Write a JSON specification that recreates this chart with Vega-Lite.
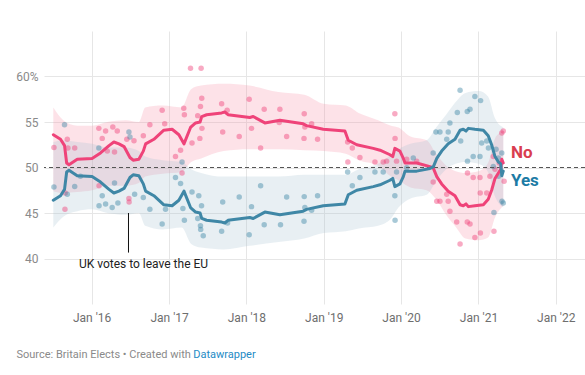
{
  "$schema": "https://vega.github.io/schema/vega-lite/v6.json",
  "width": 541,
  "height": 273,
  "autosize": {"type": "none"},
  "padding": {"left": 44, "top": 31, "right": 0, "bottom": 71},
  "background": "white",
  "config": {"font": "Roboto", "view": {"stroke": null}},
  "datasets": {
    "lines": [
      {"d": "2015-07-04", "no": 53.6, "yes": 46.4},
      {"d": "2015-08-07", "no": 53.1, "yes": 46.9},
      {"d": "2015-08-26", "no": 52.4, "yes": 47.6},
      {"d": "2015-09-05", "no": 50.5, "yes": 49.5},
      {"d": "2015-09-16", "no": 50.3, "yes": 49.7},
      {"d": "2015-10-25", "no": 50.9, "yes": 49.1},
      {"d": "2016-01-03", "no": 51.0, "yes": 49.0},
      {"d": "2016-02-12", "no": 51.6, "yes": 48.4},
      {"d": "2016-03-23", "no": 52.4, "yes": 47.6},
      {"d": "2016-04-15", "no": 52.8, "yes": 47.2},
      {"d": "2016-05-09", "no": 52.6, "yes": 47.4},
      {"d": "2016-06-02", "no": 52.3, "yes": 47.7},
      {"d": "2016-06-30", "no": 51.1, "yes": 48.9},
      {"d": "2016-07-15", "no": 50.8, "yes": 49.2},
      {"d": "2016-08-11", "no": 50.9, "yes": 49.1},
      {"d": "2016-09-01", "no": 51.8, "yes": 48.2},
      {"d": "2016-09-12", "no": 52.6, "yes": 47.4},
      {"d": "2016-10-21", "no": 53.1, "yes": 46.9},
      {"d": "2016-12-07", "no": 54.1, "yes": 45.9},
      {"d": "2017-01-15", "no": 54.2, "yes": 45.8},
      {"d": "2017-02-16", "no": 53.6, "yes": 46.4},
      {"d": "2017-03-12", "no": 52.6, "yes": 47.4},
      {"d": "2017-04-12", "no": 54.4, "yes": 45.6},
      {"d": "2017-05-06", "no": 54.9, "yes": 45.1},
      {"d": "2017-05-27", "no": 55.0, "yes": 45.0},
      {"d": "2017-06-04", "no": 55.6, "yes": 44.4},
      {"d": "2017-06-27", "no": 55.8, "yes": 44.2},
      {"d": "2017-09-06", "no": 56.0, "yes": 44.0},
      {"d": "2017-09-21", "no": 56.1, "yes": 43.9},
      {"d": "2017-10-06", "no": 55.8, "yes": 44.2},
      {"d": "2018-01-17", "no": 55.5, "yes": 44.5},
      {"d": "2018-02-02", "no": 55.6, "yes": 44.4},
      {"d": "2018-03-29", "no": 54.9, "yes": 45.1},
      {"d": "2018-06-08", "no": 55.2, "yes": 44.8},
      {"d": "2018-09-26", "no": 54.8, "yes": 45.2},
      {"d": "2018-10-12", "no": 54.6, "yes": 45.4},
      {"d": "2018-12-30", "no": 54.2, "yes": 45.8},
      {"d": "2019-04-11", "no": 54.0, "yes": 46.0},
      {"d": "2019-04-27", "no": 53.0, "yes": 47.0},
      {"d": "2019-06-06", "no": 52.5, "yes": 47.5},
      {"d": "2019-08-23", "no": 52.1, "yes": 47.9},
      {"d": "2019-09-24", "no": 51.9, "yes": 48.1},
      {"d": "2019-11-10", "no": 51.4, "yes": 48.6},
      {"d": "2019-11-23", "no": 51.2, "yes": 48.8},
      {"d": "2019-12-03", "no": 52.1, "yes": 47.9},
      {"d": "2019-12-27", "no": 51.8, "yes": 48.2},
      {"d": "2020-01-12", "no": 51.0, "yes": 49.0},
      {"d": "2020-01-20", "no": 50.5, "yes": 49.6},
      {"d": "2020-03-15", "no": 50.5, "yes": 49.6},
      {"d": "2020-05-17", "no": 50.1, "yes": 49.9},
      {"d": "2020-06-02", "no": 49.9, "yes": 50.1},
      {"d": "2020-06-18", "no": 49.0, "yes": 51.0},
      {"d": "2020-07-11", "no": 48.2, "yes": 51.8},
      {"d": "2020-08-11", "no": 47.4, "yes": 52.6},
      {"d": "2020-09-12", "no": 46.9, "yes": 53.1},
      {"d": "2020-10-06", "no": 45.9, "yes": 54.1},
      {"d": "2020-10-21", "no": 45.8, "yes": 54.2},
      {"d": "2020-11-03", "no": 46.0, "yes": 54.0},
      {"d": "2020-11-14", "no": 45.7, "yes": 54.3},
      {"d": "2020-12-15", "no": 45.8, "yes": 54.2},
      {"d": "2021-01-24", "no": 45.9, "yes": 54.1},
      {"d": "2021-02-16", "no": 46.5, "yes": 53.5},
      {"d": "2021-03-04", "no": 47.5, "yes": 52.5},
      {"d": "2021-03-20", "no": 48.8, "yes": 51.2},
      {"d": "2021-04-05", "no": 49.4, "yes": 50.6},
      {"d": "2021-04-16", "no": 49.8, "yes": 50.4},
      {"d": "2021-04-21", "no": 50.9, "yes": 49.1},
      {"d": "2021-04-28", "no": 50.5, "yes": 49.6}
    ],
    "bands": [
      {"d": "2015-07-04", "nlo": 47.4, "nhi": 56.6, "ylo": 43.4, "yhi": 52.8},
      {"d": "2015-08-20", "nlo": 47.2, "nhi": 55.2, "ylo": 44.6, "yhi": 53.0},
      {"d": "2015-10-25", "nlo": 47.3, "nhi": 54.6, "ylo": 45.2, "yhi": 52.8},
      {"d": "2016-01-03", "nlo": 47.5, "nhi": 54.6, "ylo": 45.4, "yhi": 52.6},
      {"d": "2016-03-15", "nlo": 48.0, "nhi": 55.0, "ylo": 45.0, "yhi": 52.2},
      {"d": "2016-06-10", "nlo": 48.0, "nhi": 55.2, "ylo": 44.8, "yhi": 52.2},
      {"d": "2016-08-11", "nlo": 48.3, "nhi": 55.0, "ylo": 45.0, "yhi": 51.8},
      {"d": "2016-09-10", "nlo": 49.0, "nhi": 56.6, "ylo": 43.6, "yhi": 51.2},
      {"d": "2016-12-01", "nlo": 49.3, "nhi": 56.8, "ylo": 43.2, "yhi": 50.8},
      {"d": "2017-03-01", "nlo": 49.5, "nhi": 56.6, "ylo": 43.4, "yhi": 50.6},
      {"d": "2017-04-15", "nlo": 50.6, "nhi": 58.6, "ylo": 41.6, "yhi": 49.8},
      {"d": "2017-06-01", "nlo": 51.0, "nhi": 59.0, "ylo": 41.2, "yhi": 49.4},
      {"d": "2017-09-15", "nlo": 51.8, "nhi": 59.2, "ylo": 41.0, "yhi": 49.0},
      {"d": "2018-01-15", "nlo": 52.0, "nhi": 59.0, "ylo": 41.4, "yhi": 49.0},
      {"d": "2018-06-01", "nlo": 52.0, "nhi": 58.3, "ylo": 41.8, "yhi": 49.0},
      {"d": "2018-10-01", "nlo": 51.9, "nhi": 58.0, "ylo": 42.2, "yhi": 49.2},
      {"d": "2019-01-01", "nlo": 51.8, "nhi": 57.0, "ylo": 42.8, "yhi": 49.2},
      {"d": "2019-04-15", "nlo": 51.5, "nhi": 56.8, "ylo": 43.0, "yhi": 49.2},
      {"d": "2019-06-15", "nlo": 50.8, "nhi": 56.0, "ylo": 43.3, "yhi": 49.8},
      {"d": "2019-09-15", "nlo": 50.2, "nhi": 55.2, "ylo": 43.6, "yhi": 50.4},
      {"d": "2019-11-15", "nlo": 49.0, "nhi": 54.6, "ylo": 44.4, "yhi": 51.4},
      {"d": "2019-12-20", "nlo": 48.6, "nhi": 54.4, "ylo": 45.6, "yhi": 52.0},
      {"d": "2020-02-15", "nlo": 47.8, "nhi": 53.4, "ylo": 46.6, "yhi": 52.6},
      {"d": "2020-05-01", "nlo": 47.5, "nhi": 53.0, "ylo": 47.0, "yhi": 53.0},
      {"d": "2020-06-15", "nlo": 46.5, "nhi": 51.5, "ylo": 48.5, "yhi": 54.4},
      {"d": "2020-08-01", "nlo": 44.8, "nhi": 50.2, "ylo": 49.8, "yhi": 55.8},
      {"d": "2020-09-15", "nlo": 43.5, "nhi": 49.6, "ylo": 50.4, "yhi": 57.2},
      {"d": "2020-11-01", "nlo": 42.2, "nhi": 49.4, "ylo": 50.6, "yhi": 58.2},
      {"d": "2021-01-01", "nlo": 42.0, "nhi": 49.6, "ylo": 50.4, "yhi": 58.4},
      {"d": "2021-02-15", "nlo": 42.3, "nhi": 50.5, "ylo": 49.5, "yhi": 57.8},
      {"d": "2021-03-20", "nlo": 44.5, "nhi": 53.2, "ylo": 46.8, "yhi": 55.4},
      {"d": "2021-04-28", "nlo": 45.8, "nhi": 54.0, "ylo": 45.6, "yhi": 54.4}
    ],
    "pollsNo": [
      {"d": "2015-07-07", "v": 52.2}, {"d": "2015-08-28", "v": 45.4}, {"d": "2015-08-29", "v": 47.2},
      {"d": "2015-09-08", "v": 53.1}, {"d": "2015-09-11", "v": 52.15}, {"d": "2015-10-13", "v": 52.15},
      {"d": "2016-02-04", "v": 54.3}, {"d": "2016-02-05", "v": 48.0}, {"d": "2016-02-20", "v": 53.2},
      {"d": "2016-03-07", "v": 54.0}, {"d": "2016-03-15", "v": 51.8}, {"d": "2016-04-10", "v": 54.45},
      {"d": "2016-04-18", "v": 51.7}, {"d": "2016-05-01", "v": 54.0}, {"d": "2016-06-15", "v": 53.1},
      {"d": "2016-06-25", "v": 46.6}, {"d": "2016-06-26", "v": 46.2}, {"d": "2016-07-19", "v": 52.95},
      {"d": "2016-09-01", "v": 53.5}, {"d": "2016-10-02", "v": 54.7}, {"d": "2016-11-29", "v": 56.3},
      {"d": "2016-12-11", "v": 54.8}, {"d": "2017-01-31", "v": 51.2}, {"d": "2017-02-24", "v": 51.9},
      {"d": "2017-03-03", "v": 49.4}, {"d": "2017-03-11", "v": 56.5}, {"d": "2017-03-14", "v": 55.8},
      {"d": "2017-04-12", "v": 60.9}, {"d": "2017-04-19", "v": 52.7}, {"d": "2017-05-16", "v": 55.7},
      {"d": "2017-05-26", "v": 53.2}, {"d": "2017-05-29", "v": 56.7}, {"d": "2017-06-01", "v": 60.9},
      {"d": "2017-06-04", "v": 57.6}, {"d": "2017-06-05", "v": 54.3}, {"d": "2017-09-06", "v": 57.0},
      {"d": "2017-09-11", "v": 53.9}, {"d": "2017-10-02", "v": 56.3}, {"d": "2017-11-28", "v": 53.4},
      {"d": "2018-01-14", "v": 57.5}, {"d": "2018-01-25", "v": 54.3}, {"d": "2018-03-09", "v": 52.15},
      {"d": "2018-03-26", "v": 56.4}, {"d": "2018-06-05", "v": 54.95}, {"d": "2018-06-08", "v": 56.4},
      {"d": "2018-07-10", "v": 53.4}, {"d": "2018-09-30", "v": 53.2}, {"d": "2018-10-01", "v": 55.9},
      {"d": "2018-10-04", "v": 54.45}, {"d": "2018-11-05", "v": 54.8}, {"d": "2018-12-03", "v": 53.1},
      {"d": "2019-04-24", "v": 52.8}, {"d": "2019-04-25", "v": 50.6}, {"d": "2019-05-16", "v": 52.15},
      {"d": "2019-06-21", "v": 51.1}, {"d": "2019-08-31", "v": 50.6}, {"d": "2019-10-09", "v": 50.6},
      {"d": "2019-10-25", "v": 50.7}, {"d": "2019-12-03", "v": 55.9}, {"d": "2019-12-04", "v": 53.2},
      {"d": "2019-12-11", "v": 50.7}, {"d": "2020-01-28", "v": 50.9}, {"d": "2020-03-15", "v": 50.7},
      {"d": "2020-06-01", "v": 48.4}, {"d": "2020-06-18", "v": 46.3}, {"d": "2020-07-03", "v": 46.3},
      {"d": "2020-08-04", "v": 47.05}, {"d": "2020-08-11", "v": 46.3}, {"d": "2020-08-19", "v": 45.2},
      {"d": "2020-09-20", "v": 44.0}, {"d": "2020-10-06", "v": 41.6}, {"d": "2020-11-09", "v": 44.0},
      {"d": "2020-11-10", "v": 49.4}, {"d": "2020-11-22", "v": 43.8}, {"d": "2020-12-07", "v": 48.9},
      {"d": "2020-12-15", "v": 42.3}, {"d": "2021-01-08", "v": 48.9}, {"d": "2021-01-09", "v": 47.2},
      {"d": "2021-01-10", "v": 42.8}, {"d": "2021-02-09", "v": 47.2}, {"d": "2021-02-24", "v": 49.05},
      {"d": "2021-03-12", "v": 51.2}, {"d": "2021-03-15", "v": 43.0}, {"d": "2021-03-20", "v": 49.8},
      {"d": "2021-04-09", "v": 50.5}, {"d": "2021-04-21", "v": 53.8}, {"d": "2021-04-28", "v": 54.0},
      {"d": "2021-05-02", "v": 48.5}
    ],
    "pollsYes": [
      {"d": "2015-07-07", "v": 47.85}, {"d": "2015-08-26", "v": 54.7}, {"d": "2015-09-08", "v": 47.05},
      {"d": "2015-10-13", "v": 47.9}, {"d": "2015-11-09", "v": 49.05}, {"d": "2016-02-04", "v": 52.15},
      {"d": "2016-02-05", "v": 45.8}, {"d": "2016-02-20", "v": 46.9}, {"d": "2016-03-07", "v": 46.0},
      {"d": "2016-04-07", "v": 45.6}, {"d": "2016-04-18", "v": 48.3}, {"d": "2016-05-04", "v": 46.1},
      {"d": "2016-06-25", "v": 53.9}, {"d": "2016-06-30", "v": 53.35}, {"d": "2016-07-22", "v": 47.05},
      {"d": "2016-09-01", "v": 46.7}, {"d": "2016-10-02", "v": 45.4}, {"d": "2016-11-29", "v": 43.8},
      {"d": "2016-12-15", "v": 45.4}, {"d": "2017-01-31", "v": 48.9}, {"d": "2017-02-24", "v": 48.25},
      {"d": "2017-03-03", "v": 50.6}, {"d": "2017-03-07", "v": 45.5}, {"d": "2017-03-14", "v": 44.2},
      {"d": "2017-04-19", "v": 47.3}, {"d": "2017-05-16", "v": 44.4}, {"d": "2017-05-21", "v": 46.9},
      {"d": "2017-05-29", "v": 43.6}, {"d": "2017-05-30", "v": 43.2}, {"d": "2017-06-03", "v": 45.8},
      {"d": "2017-06-11", "v": 42.5}, {"d": "2017-09-06", "v": 43.0}, {"d": "2017-09-11", "v": 46.2},
      {"d": "2017-10-04", "v": 43.9}, {"d": "2017-11-28", "v": 46.75}, {"d": "2018-01-14", "v": 42.6},
      {"d": "2018-01-25", "v": 45.7}, {"d": "2018-03-09", "v": 48.0}, {"d": "2018-03-26", "v": 43.7},
      {"d": "2018-06-11", "v": 43.7}, {"d": "2018-07-10", "v": 46.75}, {"d": "2018-09-30", "v": 44.1},
      {"d": "2018-10-01", "v": 46.8}, {"d": "2018-10-04", "v": 45.6}, {"d": "2018-11-05", "v": 45.3},
      {"d": "2018-12-03", "v": 46.9}, {"d": "2019-04-24", "v": 49.5}, {"d": "2019-05-16", "v": 48.0},
      {"d": "2019-06-21", "v": 48.9}, {"d": "2019-08-31", "v": 49.5}, {"d": "2019-10-09", "v": 49.5},
      {"d": "2019-12-03", "v": 46.9}, {"d": "2019-12-04", "v": 44.2}, {"d": "2019-12-11", "v": 49.5},
      {"d": "2020-01-28", "v": 49.97}, {"d": "2020-02-28", "v": 51.05}, {"d": "2020-06-01", "v": 51.6},
      {"d": "2020-06-14", "v": 53.9}, {"d": "2020-07-03", "v": 53.9}, {"d": "2020-08-04", "v": 53.1},
      {"d": "2020-08-11", "v": 53.9}, {"d": "2020-08-19", "v": 54.9}, {"d": "2020-09-23", "v": 56.05},
      {"d": "2020-10-06", "v": 58.5}, {"d": "2020-10-09", "v": 52.9}, {"d": "2020-11-09", "v": 56.15},
      {"d": "2020-11-10", "v": 50.7}, {"d": "2020-11-22", "v": 56.4}, {"d": "2020-12-07", "v": 51.2},
      {"d": "2020-12-15", "v": 57.8}, {"d": "2021-01-08", "v": 51.2}, {"d": "2021-01-11", "v": 57.35},
      {"d": "2021-01-16", "v": 52.7}, {"d": "2021-02-09", "v": 52.9}, {"d": "2021-02-17", "v": 52.15},
      {"d": "2021-03-12", "v": 50.1}, {"d": "2021-03-15", "v": 45.05}, {"d": "2021-03-25", "v": 52.0},
      {"d": "2021-04-05", "v": 51.05}, {"d": "2021-04-06", "v": 49.05}, {"d": "2021-04-21", "v": 51.6},
      {"d": "2021-04-22", "v": 46.3}, {"d": "2021-04-28", "v": 46.1}
    ],
    "brexit": [
      {"d": "2016-06-23", "top": 45, "bottom": 40.65, "ty": 39.45, "text": "UK votes to leave the EU"}
    ],
    "labels": [
      {"d": "2021-06-03", "v": 51.6, "label": "No"},
      {"d": "2021-06-03", "v": 48.5, "label": "Yes"}
    ]
  },
  "layer": [
    {
      "data": {"name": "bands"},
      "mark": {"type": "area", "color": "#f78ba3", "opacity": 0.25, "interpolate": "monotone"},
      "encoding": {
        "x": {
          "field": "d", "type": "temporal",
          "scale": {"domain": [{"year": 2015, "month": 5, "date": 21}, {"year": 2022, "month": 5, "date": 19}]},
          "axis": {
            "format": "%b '%y",
            "tickCount": {"interval": "year", "step": 1},
            "domain": false, "ticks": false,
            "labelPadding": 8, "labelColor": "#6e6e6e", "labelFontSize": 12, "labelFont": "Roboto",
            "gridColor": "#e6e6e6", "grid": true,
            "title": "Datawrapper", "titleColor": "#258bc5", "titleFontSize": 11, "titleFontWeight": "normal",
            "titleFont": "Roboto",
            "titleX": 148.7, "titleY": 50, "titleAlign": "left", "titleBaseline": "middle", "titleAnchor": null
          }
        },
        "y": {
          "field": "nlo", "type": "quantitative",
          "scale": {"domain": [35, 65], "nice": false, "zero": false},
          "axis": {
            "values": [40, 45, 50, 55, 60],
            "labelExpr": "datum.value == 60 ? '60%' : datum.label",
            "domain": false, "ticks": false,
            "labelPadding": 6, "labelColor": "#8a8a8a", "labelFontSize": 12, "labelFont": "Roboto",
            "gridColor": "#e6e6e6", "grid": true,
            "title": "Source: Britain Elects \u2022 Created with",
            "titleAngle": 0, "titleX": -28, "titleY": 323,
            "titleAlign": "left", "titleBaseline": "middle",
            "titleColor": "#8a8a8a", "titleFontSize": 11, "titleFontWeight": "normal", "titleFont": "Roboto"
          }
        },
        "y2": {"field": "nhi"}
      }
    },
    {
      "data": {"name": "bands"},
      "mark": {"type": "area", "color": "#a3bfcf", "opacity": 0.25, "interpolate": "monotone"},
      "encoding": {
        "x": {"field": "d", "type": "temporal", "scale": {"domain": [{"year": 2015, "month": 5, "date": 21}, {"year": 2022, "month": 5, "date": 19}]}},
        "y": {"field": "ylo", "type": "quantitative", "scale": {"domain": [35, 65], "nice": false, "zero": false}},
        "y2": {"field": "yhi"}
      }
    },
    {
      "data": {"name": "pollsNo"},
      "mark": {"type": "circle", "color": "#ef4379", "opacity": 0.45, "size": 30},
      "encoding": {
        "x": {"field": "d", "type": "temporal", "scale": {"domain": [{"year": 2015, "month": 5, "date": 21}, {"year": 2022, "month": 5, "date": 19}]}},
        "y": {"field": "v", "type": "quantitative", "scale": {"domain": [35, 65], "nice": false, "zero": false}}
      }
    },
    {
      "data": {"name": "pollsYes"},
      "mark": {"type": "circle", "color": "#3f87a6", "opacity": 0.45, "size": 30},
      "encoding": {
        "x": {"field": "d", "type": "temporal", "scale": {"domain": [{"year": 2015, "month": 5, "date": 21}, {"year": 2022, "month": 5, "date": 19}]}},
        "y": {"field": "v", "type": "quantitative", "scale": {"domain": [35, 65], "nice": false, "zero": false}}
      }
    },
    {
      "data": {"values": [{"y": 50}]},
      "mark": {"type": "rule", "color": "#555555", "strokeWidth": 1, "strokeDash": [4, 3]},
      "encoding": {
        "y": {"field": "y", "type": "quantitative", "scale": {"domain": [35, 65], "nice": false, "zero": false}}
      }
    },
    {
      "data": {"name": "lines"},
      "mark": {"type": "line", "color": "#ef4379", "strokeWidth": 3, "strokeJoin": "round", "strokeCap": "round"},
      "encoding": {
        "x": {"field": "d", "type": "temporal", "scale": {"domain": [{"year": 2015, "month": 5, "date": 21}, {"year": 2022, "month": 5, "date": 19}]}},
        "y": {"field": "no", "type": "quantitative", "scale": {"domain": [35, 65], "nice": false, "zero": false}}
      }
    },
    {
      "data": {"name": "lines"},
      "mark": {"type": "line", "color": "#3f87a6", "strokeWidth": 3, "strokeJoin": "round", "strokeCap": "round"},
      "encoding": {
        "x": {"field": "d", "type": "temporal", "scale": {"domain": [{"year": 2015, "month": 5, "date": 21}, {"year": 2022, "month": 5, "date": 19}]}},
        "y": {"field": "yes", "type": "quantitative", "scale": {"domain": [35, 65], "nice": false, "zero": false}}
      }
    },
    {
      "data": {"name": "brexit"},
      "mark": {"type": "rule", "color": "#111111", "strokeWidth": 1},
      "encoding": {
        "x": {"field": "d", "type": "temporal", "scale": {"domain": [{"year": 2015, "month": 5, "date": 21}, {"year": 2022, "month": 5, "date": 19}]}},
        "y": {"field": "top", "type": "quantitative", "scale": {"domain": [35, 65], "nice": false, "zero": false}},
        "y2": {"field": "bottom"}
      }
    },
    {
      "data": {"name": "brexit"},
      "mark": {"type": "text", "color": "#222222", "fontSize": 12, "font": "Roboto", "align": "center", "baseline": "middle", "dx": 15},
      "encoding": {
        "x": {"field": "d", "type": "temporal", "scale": {"domain": [{"year": 2015, "month": 5, "date": 21}, {"year": 2022, "month": 5, "date": 19}]}},
        "y": {"field": "ty", "type": "quantitative", "scale": {"domain": [35, 65], "nice": false, "zero": false}},
        "text": {"field": "text"}
      }
    },
    {
      "data": {"name": "labels"},
      "transform": [{"filter": "datum.label == 'No'"}],
      "mark": {"type": "text", "color": "#d93e4f", "fontSize": 17, "fontWeight": "bold", "font": "Roboto", "align": "left", "baseline": "middle"},
      "encoding": {
        "x": {"field": "d", "type": "temporal", "scale": {"domain": [{"year": 2015, "month": 5, "date": 21}, {"year": 2022, "month": 5, "date": 19}]}},
        "y": {"field": "v", "type": "quantitative", "scale": {"domain": [35, 65], "nice": false, "zero": false}},
        "text": {"field": "label"}
      }
    },
    {
      "data": {"name": "labels"},
      "transform": [{"filter": "datum.label == 'Yes'"}],
      "mark": {"type": "text", "color": "#1c7ba5", "fontSize": 17, "fontWeight": "bold", "font": "Roboto", "align": "left", "baseline": "middle"},
      "encoding": {
        "x": {"field": "d", "type": "temporal", "scale": {"domain": [{"year": 2015, "month": 5, "date": 21}, {"year": 2022, "month": 5, "date": 19}]}},
        "y": {"field": "v", "type": "quantitative", "scale": {"domain": [35, 65], "nice": false, "zero": false}},
        "text": {"field": "label"}
      }
    }
  ]
}
